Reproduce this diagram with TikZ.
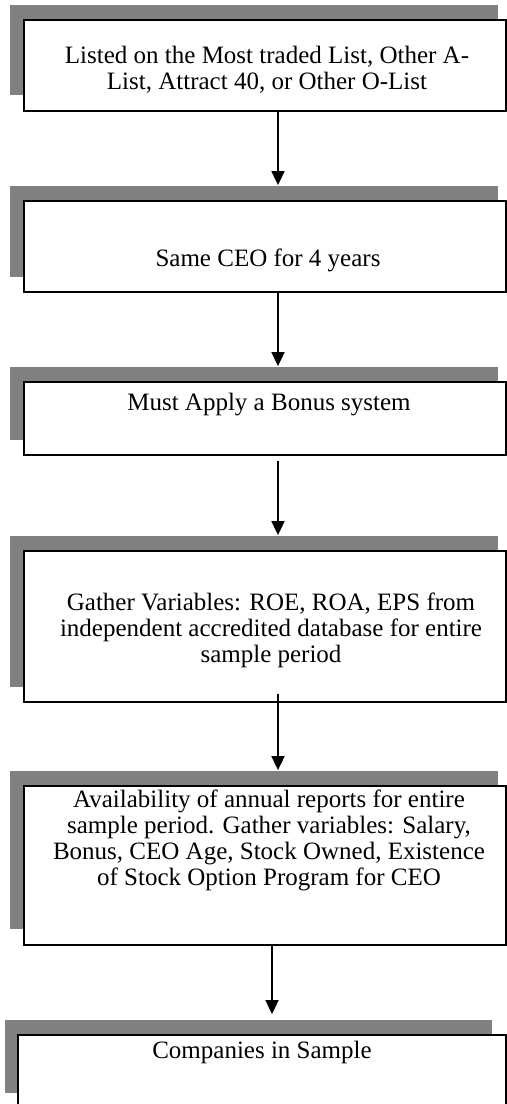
\documentclass[tikz,border=0pt]{standalone}
\usepackage{fontspec}
\setmainfont{Liberation Serif}
\usetikzlibrary{fit,arrows.meta}

\begin{document}
\begin{tikzpicture}[x=0.5pt, y=-0.5pt, line width=0.9pt,
    shadow box/.style={fill=gray, inner sep=0pt},
    stage box/.style={draw, fill=white, inner sep=0pt},
    stage text/.style={align=center, inner sep=0pt, font=\fontsize{12.5}{13}\selectfont},
    flow/.style={-{Triangle[width=6.5pt, length=7pt]}}]

    \useasboundingbox (0,0) rectangle (507,1104);

    % x of the arrows
    \coordinate (ax) at (278,0);
    \coordinate (ax2) at (272,0);

    % First box
    \node[shadow box, fit={(10,5) (498,95)}] (S1) {};
    \node[stage box, fit={(24,20) (506,111)}] (B1) {};
    \node[stage text] (T1) at (267,70) {Listed on the Most traded List, Other A-\\List, Attract 40, or Other O-List};

    % Second box
    \node[shadow box, fit={(10,186) (498,277)}] (S2) {};
    \node[stage box, fit={(24,201) (506,292)}] (B2) {};
    \node[stage text] (T2) at (268,260) {Same CEO for 4 years};

    % Third box
    \node[shadow box, fit={(10,367) (498,440)}] (S3) {};
    \node[stage box, fit={(24,382) (506,455)}] (B3) {};
    \node[stage text] (T3) at (269,405) {Must Apply a Bonus system};

    % Fourth box
    \node[shadow box, fit={(10,536) (498,687)}] (S4) {};
    \node[stage box, fit={(24,551) (506,702)}] (B4) {};
    \node[stage text] (T4) at (271,630) {Gather Variables: ROE, ROA, EPS from\\independent accredited database for entire\\sample period};

    % Fifth box
    \node[shadow box, fit={(10,771) (498,929)}] (S5) {};
    \node[stage box, fit={(24,786) (506,945)}] (B5) {};
    \node[stage text] (T5) at (269,840) {Availability of annual reports for entire\\sample period. Gather variables: Salary,\\Bonus, CEO Age, Stock Owned, Existence\\of Stock Option Program for CEO};

    % Last box
    \node[shadow box, fit={(5,1020) (492,1093)}] (S6) {};
    \node[stage box, fit={(18,1035) (506,1125)}] (B6) {};
    \node[stage text] (T6) at (262,1052) {Companies in Sample};

    % Arrows
    \draw[flow] (B1.south -| ax) -- (S2.north -| ax);
    \draw[flow] (B2.south -| ax) -- (S3.north -| ax);
    \draw[flow, shorten <=2.5pt] (B3.south -| ax) -- (S4.north -| ax);
    \draw[flow, shorten <=-4.5pt] (B4.south -| ax) -- (S5.north -| ax);
    \draw[flow, shorten >=2.5pt] (B5.south -| ax2) -- (S6.north -| ax2);

\end{tikzpicture}
\end{document}
